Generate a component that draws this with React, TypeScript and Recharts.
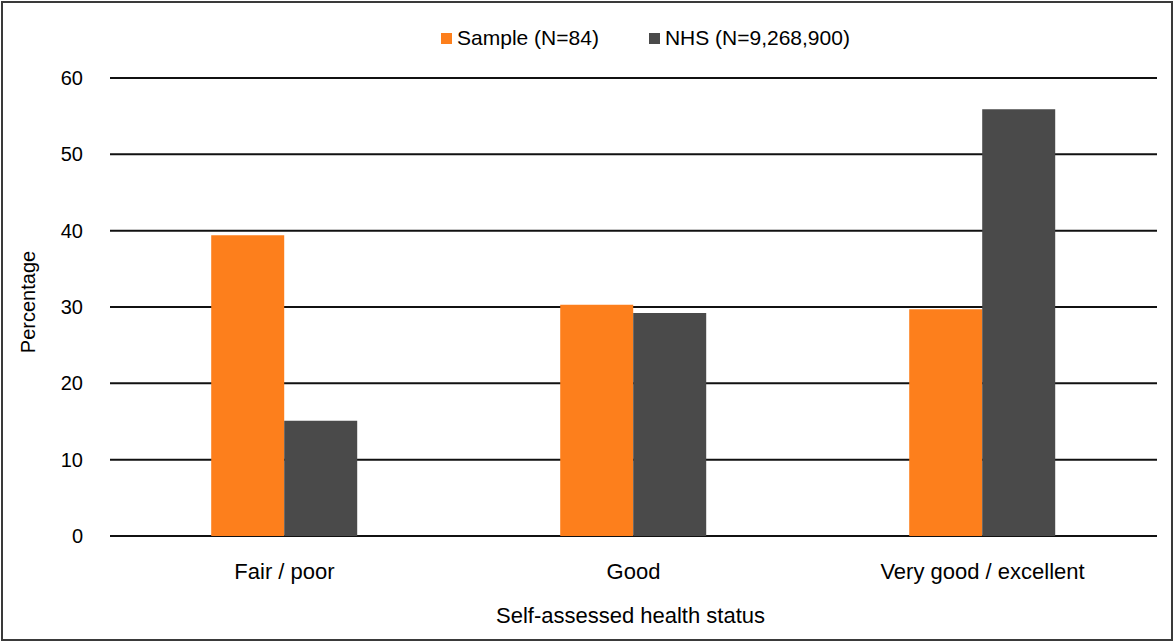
import React from "react";
import {
  BarChart,
  Bar,
  XAxis,
  YAxis,
  CartesianGrid,
  Legend,
  Label
} from "recharts";

const categories = ["Fair / poor", "Good", "Very good / excellent"];
const sampleValues = [39.4, 30.3, 29.7];
const nhsValues = [15.1, 29.2, 55.9];
const yTicks = [0, 10, 20, 30, 40, 50, 60];

const SERIES = [
  { key: "sample", name: "Sample (N=84)", color: "#fd7f1c" },
  { key: "nhs", name: "NHS (N=9,268,900)", color: "#4a4a4a" }
];

const data = categories.map((name, i) => ({
  name,
  sample: sampleValues[i],
  nhs: nhsValues[i]
}));

const FONT = "'Liberation Sans', Arial, sans-serif";

const LegendContent = () => (
  <div style={{
    height: 24, display: "flex", justifyContent: "center", alignItems: "center",
    paddingLeft: 117, fontFamily: FONT, fontSize: 21, color: "#000", gap: 50
  }}>
    {SERIES.map((s) => (
      <div key={s.key} style={{ display: "flex", alignItems: "center", gap: 5 }}>
        <div style={{ width: 11, height: 11, background: s.color }} />
        <span>{s.name}</span>
      </div>
    ))}
  </div>
);

const YTitle = ({ viewBox }: any) => {
  const x = viewBox.x + 28;
  const y = viewBox.y + viewBox.height / 2 - 5;
  return (
    <text x={x} y={y} transform={`rotate(-90 ${x} ${y})`} textAnchor="middle"
      dominantBaseline="central" fontFamily={FONT} fontSize={20} fill="#000">
      Percentage
    </text>
  );
};

const XTitle = ({ viewBox }: any) => {
  const x = viewBox.x + viewBox.width / 2 - 3;
  const y = viewBox.y + viewBox.height - 19;
  return (
    <text x={x} y={y} textAnchor="middle" fontFamily={FONT} fontSize={22} fill="#000">
      Self-assessed health status
    </text>
  );
};

export default function App() {
  return (
    <div style={{ position: "absolute", left: 0, top: 0, width: 1174, height: 642, background: "#fff" }}>
      <div style={{
        position: "absolute", left: 1, top: 1, width: 1172, height: 640,
        border: "2px solid #3a3a3a", boxSizing: "border-box"
      }} />
      <BarChart
        width={1174}
        height={642}
        data={data}
        margin={{ top: 54, right: 17, left: 0, bottom: 0 }}
        barCategoryGap="29%"
        barGap={0}
        style={{ position: "absolute", left: 0, top: 0 }}
      >
        <CartesianGrid vertical={false} stroke="#111" strokeWidth={2} />
        <XAxis
          dataKey="name"
          height={106}
          axisLine={false}
          tickLine={false}
          tickSize={0}
          tickMargin={27}
          interval={0}
          tick={{ fontFamily: FONT, fontSize: 22, fill: "#000" }}
        >
          <Label content={<XTitle />} />
        </XAxis>
        <YAxis
          width={110}
          domain={[0, 60]}
          ticks={yTicks}
          axisLine={false}
          tickLine={false}
          tickSize={0}
          tickMargin={27}
          tick={{ fontFamily: FONT, fontSize: 20, fill: "#000" }}
        >
          <Label content={<YTitle />} />
        </YAxis>
        <Legend
          verticalAlign="top"
          content={<LegendContent />}
          wrapperStyle={{ top: 26, left: 0, width: 1174 }}
        />
        {SERIES.map((s) => (
          <Bar key={s.key} dataKey={s.key} name={s.name} fill={s.color} isAnimationActive={false} />
        ))}
      </BarChart>
    </div>
  );
}
